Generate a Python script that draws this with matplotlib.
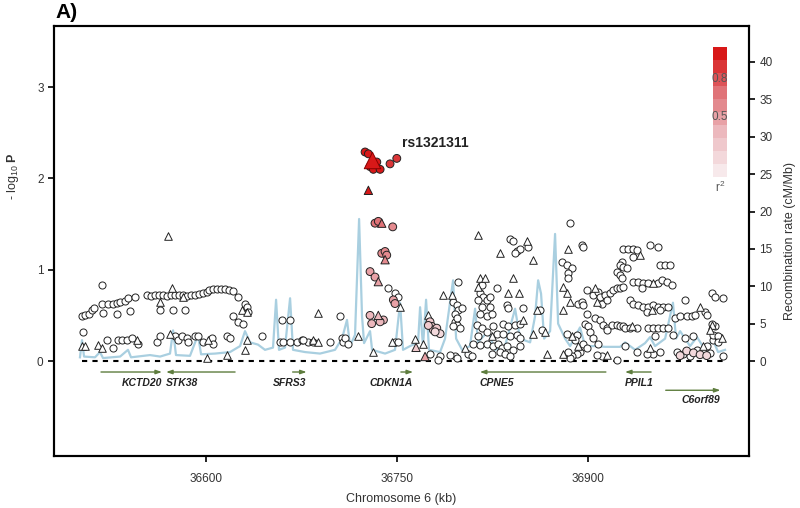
import numpy as np
import matplotlib
matplotlib.use("Agg")
import matplotlib.pyplot as plt
from matplotlib.colors import LinearSegmentedColormap, BoundaryNorm

plt.rcParams["font.family"] = ["Liberation Sans", "DejaVu Sans"]
plt.rcParams["mathtext.fontset"] = "custom"
plt.rcParams["mathtext.rm"] = "Liberation Sans"
plt.rcParams["mathtext.bf"] = "Liberation Sans:bold"

# --- SNPs with r2 ~ 0 (white) ---
white_circ_pos = [
    36518.1, 36502.4, 36505.0, 36508.3, 36510.7, 36512.3, 36518.1, 36523.3, 36526.7, 36529.9,
    36532.5, 36536.4, 36539.0, 36544.2, 36519.1, 36529.9, 36540.3,
    36553.7, 36556.8, 36559.9, 36563.1, 36566.2, 36569.4, 36572.5, 36575.7, 36578.8, 36582.0,
    36585.1, 36588.2, 36591.4, 36594.5, 36597.6, 36600.8,
    36602.4, 36605.5, 36608.6, 36611.8, 36614.9, 36618.1, 36621.2,
    36563.9, 36574.1, 36583.5,
    36625.1, 36630.6, 36632.0, 36633.0, 36621.2, 36625.1, 36629.1,
    36503.4, 36522.0, 36527.2, 36530.9, 36533.8, 36537.7, 36541.6, 36546.8,
    36561.3, 36563.9, 36575.7, 36578.0, 36580.9, 36584.8, 36586.1, 36591.4, 36594.0, 36597.9,
    36604.5, 36605.7, 36616.3, 36618.8, 36643.7,
    36659.5, 36666.0, 36658.1, 36660.7, 36666.0, 36671.2, 36675.2, 36680.3,
    36676.2, 36684.0, 36697.4, 36705.2, 36706.6, 36707.8, 36709.2, 36711.8,
    36743.2, 36748.4, 36751.0, 36748.4, 36751.0,
    36794.2, 36796.9, 36798.2, 36800.8, 36795.6, 36796.9, 36799.5, 36798.2, 36783.8, 36795.6,
    36775.9, 36782.5, 36795.6, 36796.9, 36794.2, 36791.6, 36796.9, 36806.0, 36808.7,
    36816.5, 36815.2, 36817.8, 36820.5, 36823.1, 36813.9, 36816.5, 36823.1, 36815.2, 36820.5,
    36824.4, 36828.3,
    36812.6, 36816.5, 36820.5, 36825.6, 36813.9, 36828.3,
    36809.9, 36815.2, 36820.5, 36825.6, 36829.6, 36832.2, 36824.4, 36830.9, 36834.8,
    36838.8, 36841.4, 36844.0, 36846.6, 36842.7, 36853.1,
    36836.2, 36837.4, 36849.2, 36833.5, 36837.4, 36842.7, 36846.6, 36833.5, 36838.8, 36844.0,
    36836.2, 36841.4, 36846.6, 36846.6, 36838.8,
    36862.3, 36863.5,
    36879.4, 36883.3, 36885.9, 36887.2, 36884.6, 36884.6, 36895.1, 36896.3,
    36883.3, 36891.1, 36889.8, 36896.3, 36893.7, 36891.1, 36887.2, 36885.9, 36884.6,
    36892.4, 36895.1, 36896.3, 36899.0, 36897.7, 36900.3,
    36899.0, 36904.2, 36908.1, 36909.4, 36913.4,
    36910.8, 36914.7, 36917.3, 36919.9, 36922.6, 36925.2, 36927.8,
    36905.5, 36909.4, 36912.0, 36914.7, 36918.6, 36922.6, 36925.2, 36927.8, 36914.7,
    36901.6, 36904.2, 36908.1, 36899.0, 36910.8, 36906.9, 36922.6,
    36927.8, 36931.7, 36935.6, 36938.3, 36935.6, 36926.5, 36925.2, 36927.8, 36922.6, 36925.2,
    36926.5, 36930.4, 36948.7, 36955.2, 36956.6, 36960.5, 36964.4,
    36935.6, 36939.5, 36943.5, 36947.4, 36955.2, 36957.9, 36961.8, 36965.8, 36942.2,
    36933.0, 36935.6, 36939.5, 36943.5, 36947.4, 36951.3, 36955.2, 36959.2, 36963.1, 36946.1,
    36956.6,
    36976.2, 36968.4, 36972.3, 36977.5, 36981.5, 36984.1, 36991.9, 36997.2,
    36929.1, 36933.0, 36947.4, 36951.3, 36955.2, 36959.2, 36963.1, 36952.6, 36967.0, 36938.3,
    36929.1, 36938.3, 36951.3, 36956.6, 36946.1,
    36969.7, 36974.9, 36980.1, 36985.4, 36990.6, 36995.8,
    36982.8, 36993.2, 36998.4, 37001.1, 36999.8,
    36999.8, 37006.3, 36993.2, 36997.2, 36998.4, 37002.3, 37002.3, 37006.3, 36976.2,
]
white_circ_logp = [
    0.83, 0.49, 0.50, 0.52, 0.56, 0.58, 0.63, 0.63, 0.63, 0.64,
    0.65, 0.66, 0.69, 0.70, 0.53, 0.52, 0.55,
    0.72, 0.71, 0.72, 0.72, 0.72, 0.71, 0.72, 0.72, 0.72, 0.72,
    0.71, 0.72, 0.72, 0.73, 0.74, 0.76,
    0.78, 0.79, 0.79, 0.79, 0.79, 0.78, 0.77,
    0.56, 0.56, 0.56,
    0.70, 0.63, 0.59, 0.54, 0.49, 0.43, 0.41,
    0.32, 0.23, 0.14, 0.23, 0.23, 0.23, 0.25, 0.19,
    0.21, 0.27, 0.27, 0.23, 0.27, 0.25, 0.21, 0.27, 0.27, 0.21,
    0.25, 0.19, 0.27, 0.25, 0.27,
    0.45, 0.45, 0.21, 0.21, 0.21, 0.21, 0.23, 0.21,
    0.23, 0.21, 0.21, 0.49, 0.25, 0.21, 0.25, 0.19,
    0.80, 0.74, 0.70, 0.21, 0.21,
    0.65, 0.61, 0.56, 0.58, 0.43, 0.39, 0.36, 0.87, 0.05, 0.05,
    0.08, 0.01, 0.52, 0.47, 0.38, 0.07, 0.03, 0.08, 0.05,
    0.83, 0.74, 0.70, 0.67, 0.70, 0.67, 0.59, 0.59, 0.52, 0.49,
    0.52, 0.80,
    0.39, 0.36, 0.32, 0.38, 0.27, 0.30,
    0.19, 0.18, 0.19, 0.16, 0.19, 0.14, 0.08, 0.10, 0.08,
    1.34, 1.31, 1.20, 1.23, 1.18, 1.25,
    0.61, 0.58, 0.58, 0.41, 0.38, 0.39, 0.41, 0.30, 0.27, 0.28,
    0.16, 0.12, 0.25, 0.16, 0.05,
    0.56, 0.34,
    1.09, 1.05, 1.51, 1.02, 0.96, 0.91, 1.27, 1.25,
    0.30, 0.28, 0.23, 0.19, 0.10, 0.08, 0.05, 0.03, 0.10,
    0.63, 0.65, 0.61, 0.52, 0.41, 0.38,
    0.78, 0.72, 0.76, 0.70, 0.72,
    0.63, 0.67, 0.74, 0.78, 0.80, 0.80, 0.81,
    0.47, 0.45, 0.39, 0.36, 0.39, 0.39, 0.38, 0.38, 0.34,
    0.32, 0.25, 0.19, 0.14, 0.05, 0.07, 0.01,
    1.23, 1.23, 1.23, 1.22, 1.14, 1.09, 1.05, 1.03, 0.98, 0.94,
    0.91, 1.02, 1.27, 1.25, 1.05, 1.05, 1.05,
    0.87, 0.87, 0.85, 0.85, 0.85, 0.89, 0.87, 0.83, 0.80,
    0.67, 0.63, 0.61, 0.59, 0.59, 0.61, 0.59, 0.59, 0.59, 0.54,
    0.56,
    0.67, 0.47, 0.49, 0.49, 0.49, 0.50, 0.54, 0.74,
    0.36, 0.36, 0.36, 0.36, 0.36, 0.36, 0.36, 0.27, 0.28, 0.36,
    0.16, 0.10, 0.08, 0.10, 0.08,
    0.10, 0.08, 0.05, 0.12, 0.10, 0.09,
    0.27, 0.16, 0.23, 0.27, 0.38,
    0.70, 0.69, 0.50, 0.41, 0.28, 0.27, 0.21, 0.05, 0.25,
]

white_tri_pos = [
    36573.1, 36563.9, 36581.9, 36628.0, 36632.0, 36570.0,
    36502.4, 36505.0, 36515.2, 36518.1, 36545.6, 36571.7, 36601.8,
    36632.0, 36630.6, 36616.3, 36600.6,
    36684.3, 36688.0, 36688.0, 36719.6, 36731.4,
    36752.4, 36745.8, 36764.1,
    36774.6, 36786.4, 36793.0, 36813.9, 36770.7, 36803.4,
    36815.2, 36819.1, 36813.9, 36824.4,
    36830.9, 36851.9, 36857.1, 36837.4, 36841.4, 36846.1,
    36859.7, 36849.2, 36857.1, 36866.2, 36867.6,
    36884.6, 36880.6, 36883.3, 36885.9, 36880.6,
    36887.2, 36892.4, 36880.6,
    36905.5, 36906.9, 36914.7,
    36940.9, 36951.3, 36950.0, 36988.0, 36934.3, 36948.7, 36990.6, 36997.2, 36995.8, 37004.9,
]
white_tri_logp = [
    0.80, 0.65, 0.70, 0.56, 0.54, 1.37,
    0.16, 0.16, 0.18, 0.14, 0.23, 0.30, 0.23,
    0.23, 0.12, 0.07, 0.03,
    0.23, 0.53, 0.21, 0.27, 0.10,
    0.59, 0.21, 0.24,
    0.50, 0.72, 0.72, 1.38, 0.19, 0.14,
    0.91, 0.91, 0.81, 0.27,
    1.18, 1.31, 1.11, 0.74, 0.91, 0.74,
    0.56, 0.45, 0.30, 0.32, 0.08,
    1.23, 0.81, 0.74, 0.65, 0.56,
    0.27, 0.16, 0.08,
    0.80, 0.65, 0.07,
    1.16, 0.85, 0.56, 0.59, 0.38, 0.14, 0.16, 0.39, 0.34, 0.25,
]

# --- SNPs in LD with the lead SNP ---
ld_circ_pos = [
    36724.9, 36727.5, 36732.7, 36728.8, 36731.4, 36736.7, 36734.1, 36744.5, 36749.8,
    36732.7, 36735.3, 36746.6, 36738.0, 36740.6, 36741.9, 36728.8, 36732.7,
    36747.1, 36748.4, 36728.8, 36739.3, 36730.1, 36736.7,
    36775.9, 36777.3, 36778.5, 36781.2, 36783.8, 36774.6, 36779.9,
    36972.3, 36977.5, 36982.8, 36988.0, 36993.2,
]
ld_circ_logp = [
    2.29, 2.27, 2.16, 2.13, 2.10, 2.10, 2.18, 2.16, 2.22,
    1.51, 1.53, 1.47, 1.18, 1.20, 1.16, 0.98, 0.92,
    0.67, 0.63, 0.50, 0.45, 0.41, 0.43,
    0.43, 0.38, 0.34, 0.36, 0.30, 0.39, 0.32,
    0.06, 0.11, 0.09, 0.07, 0.06,
]
ld_circ_r2 = [
    0.92, 0.90, 0.93, 0.95, 0.95, 0.93, 0.96, 0.88, 0.86,
    0.62, 0.62, 0.60, 0.55, 0.55, 0.55, 0.48, 0.48,
    0.45, 0.45, 0.35, 0.35, 0.35, 0.35,
    0.20, 0.25, 0.20, 0.20, 0.15, 0.20, 0.15,
    0.15, 0.15, 0.12, 0.15, 0.12,
]
ld_tri_pos = [36727.5, 36738.0, 36740.6, 36735.3, 36735.3, 36764.9, 36772.0]
ld_tri_logp = [1.87, 1.51, 1.11, 0.87, 0.50, 0.15, 0.05]
ld_tri_r2 = [0.90, 0.62, 0.55, 0.48, 0.35, 0.30, 0.45]

lead_name = "rs1321311"
lead_pos = 36730.1
lead_logp = 2.20

# --- recombination rate (cM/Mb) ---
recomb_pos = [
    36501.0, 36502.6, 36504.2, 36512.8, 36516.7, 36519.1, 36532.5, 36538.7, 36541.1, 36556.0,
    36563.9, 36571.7, 36574.1, 36576.4, 36587.4, 36593.7, 36596.1, 36607.1, 36618.8, 36626.7,
    36630.6, 36634.6, 36640.8, 36646.3, 36652.6, 36655.0, 36657.3, 36662.0, 36666.0, 36668.3,
    36677.8, 36689.5, 36701.3, 36706.8, 36710.7, 36713.1, 36717.0, 36720.2, 36722.5, 36724.1,
    36728.8, 36730.4, 36740.6, 36748.4, 36752.4, 36754.7, 36760.2, 36766.5, 36768.1, 36770.4,
    36772.8, 36775.1, 36783.8, 36787.7, 36794.0, 36796.4, 36801.1, 36807.3, 36811.3, 36813.6,
    36821.5, 36827.0, 36834.8, 36842.7, 36846.6, 36854.5, 36858.4, 36860.8, 36863.1, 36865.5,
    36870.2, 36874.1, 36876.5, 36882.0, 36885.9, 36893.7, 36897.7, 36905.5, 36913.4, 36925.2,
    36929.1, 36937.0, 36944.8, 36948.7, 36952.6, 36960.5, 36966.7, 36969.1, 36972.3, 36980.1,
    36985.6, 36991.9, 36998.2, 37002.1, 37007.6,
]
recomb_rate = [
    0.5, 2.8, 0.6, 0.5, 1.2, 0.4, 0.6, 1.5, 0.5, 0.8,
    0.6, 1.0, 4.1, 0.8, 0.7, 3.5, 0.9, 1.0, 1.2, 2.0,
    4.0, 2.5, 2.2, 1.5, 1.8, 8.2, 1.5, 1.8, 8.4, 1.5,
    1.2, 1.0, 1.5, 3.0, 5.5, 2.0, 3.5, 19.0, 6.0, 2.4,
    4.0, 1.5, 1.0, 1.5, 7.8, 1.5, 2.0, 2.5, 7.2, 2.0,
    8.2, 1.5, 1.2, 3.0, 10.8, 3.0, 1.5, 2.0, 7.0, 2.5,
    4.0, 1.5, 2.0, 7.0, 3.0, 2.5, 6.0, 10.8, 9.0, 3.0,
    4.0, 17.0, 5.0, 3.0, 2.0, 4.5, 2.0, 2.0, 1.9, 1.9,
    2.5, 1.5, 2.4, 3.2, 2.0, 3.0, 7.8, 3.0, 4.0, 2.0,
    3.2, 1.5, 2.8, 1.2, 1.5,
]

# --- genes ---
gene_names = ["KCTD20", "STK38", "SFRS3", "CDKN1A", "CPNE5", "PPIL1", "C6orf89"]
gene_start = [36517.5, 36568.6, 36668.0, 36753.0, 36815.0, 36929.0, 36961.0]
gene_end = [36565.4, 36622.8, 36679.0, 36762.6, 36914.0, 36949.5, 37004.0]
gene_strand = ["+", "-", "+", "+", "-", "-", "+"]
gene_row = [0, 0, 0, 0, 0, 0, 1]

red = LinearSegmentedColormap.from_list("ld", ["#f7e9eb", "#ecb8bd", "#e07378", "#d81818"])
bounds = np.linspace(0, 1, 11)
cmap = matplotlib.colors.ListedColormap(red(np.linspace(0, 1, 10)))
norm = BoundaryNorm(bounds, cmap.N)

fig = plt.figure(figsize=(8.0, 5.08), dpi=100)
ax = fig.add_axes([54 / 800, 52 / 508, 695 / 800, 430 / 508])
ax2 = ax.twinx()
ax.set_zorder(ax2.get_zorder() + 1)
ax.patch.set_visible(False)

ylim = (-1.04, 3.67)
ax.set_ylim(ylim)
ax.set_xlim(36480.6, 37026.4)
ax2.set_ylim(ylim[0] * 12.21, ylim[1] * 12.21)

ax2.plot(recomb_pos, recomb_rate, color="#a9cfe0", lw=1.6)

ax.hlines(0, min(white_circ_pos), max(white_circ_pos) + 2, colors="black",
          linestyles=(0, (2.5, 2.5)), lw=1.5, zorder=1)

ax.scatter(white_circ_pos, white_circ_logp, s=26, marker="o", facecolor="white",
           edgecolor="#222222", lw=0.7, zorder=3)
ax.scatter(white_tri_pos, white_tri_logp, s=30, marker="^", facecolor="white",
           edgecolor="#222222", lw=0.7, zorder=3)
ax.scatter(ld_circ_pos, ld_circ_logp, s=32, marker="o", c=ld_circ_r2, cmap=cmap, norm=norm,
           edgecolor="#222222", lw=0.7, zorder=4)
ax.scatter(ld_tri_pos, ld_tri_logp, s=36, marker="^", c=ld_tri_r2, cmap=cmap, norm=norm,
           edgecolor="#222222", lw=0.7, zorder=4)
ax.scatter([lead_pos], [lead_logp], s=140, marker="^", c=[1.0], cmap=cmap, norm=norm,
           edgecolor="#8a0000", lw=0.7, zorder=5)
ax.text(lead_pos + 23.5, 2.39, lead_name, fontsize=10, fontweight="bold", va="center",
        ha="left", color="#222222")

green = "#5e7d3e"
row_y = [-0.12, -0.32]
lab_y = [-0.24, -0.43]
for name, s, e, st, r in zip(gene_names, gene_start, gene_end, gene_strand, gene_row):
    if st == "+":
        tail, head, ha = s, e, "right"
    else:
        tail, head, ha = e, s, "left"
    ax.annotate("", xy=(head, row_y[r]), xytext=(tail, row_y[r]),
                arrowprops=dict(arrowstyle="-|>,head_length=0.35,head_width=0.12",
                                color=green, lw=1.0, shrinkA=0, shrinkB=0))
    ax.text(head, lab_y[r], name, fontsize=7.5, fontweight="bold", fontstyle="italic",
            ha=ha, va="center", color="#222222")

ax.set_xticks([36600, 36750, 36900])
ax.set_yticks([0, 1, 2, 3])
ax2.set_yticks(range(0, 45, 5))
for a in (ax, ax2):
    a.tick_params(direction="out", length=4, width=1.2, labelsize=8.5, labelcolor="#333333")
    for sp in a.spines.values():
        sp.set_linewidth(1.5)
ax.tick_params(axis="x", pad=8)

ax.set_xlabel("Chromosome 6 (kb)", fontsize=9, color="#333333", labelpad=6)
ax.set_ylabel(r"- log$_{10}$ $\mathbf{P}$", fontsize=9, color="#333333")
ax.yaxis.set_label_coords(-0.047, 0.65)
ax2.set_ylabel("Recombination rate (cM/Mb)", fontsize=9, color="#333333", labelpad=8)

fig.text(55 / 800, 1 - 13 / 508, "A)", fontsize=15, fontweight="bold", va="center",
         ha="left")

# r2 legend
cax = fig.add_axes([713 / 800, (508 - 177) / 508, 14 / 800, 130 / 508])
cax.imshow(np.linspace(0.05, 0.95, 10).reshape(-1, 1), cmap=cmap, norm=norm,
           origin="lower", aspect="auto", extent=(0, 1, 0, 1))
cax.set_axis_off()
cax.text(0.5, 0.754, "0.8", ha="center", va="center", fontsize=8.5, color="#555555")
cax.text(0.5, 0.46, "0.5", ha="center", va="center", fontsize=8.5, color="#555555")
cax.text(0.5, -0.08, r"r$^2$", ha="center", va="center", fontsize=8.5, color="#555555")

fig.savefig("out.png", dpi=100)
